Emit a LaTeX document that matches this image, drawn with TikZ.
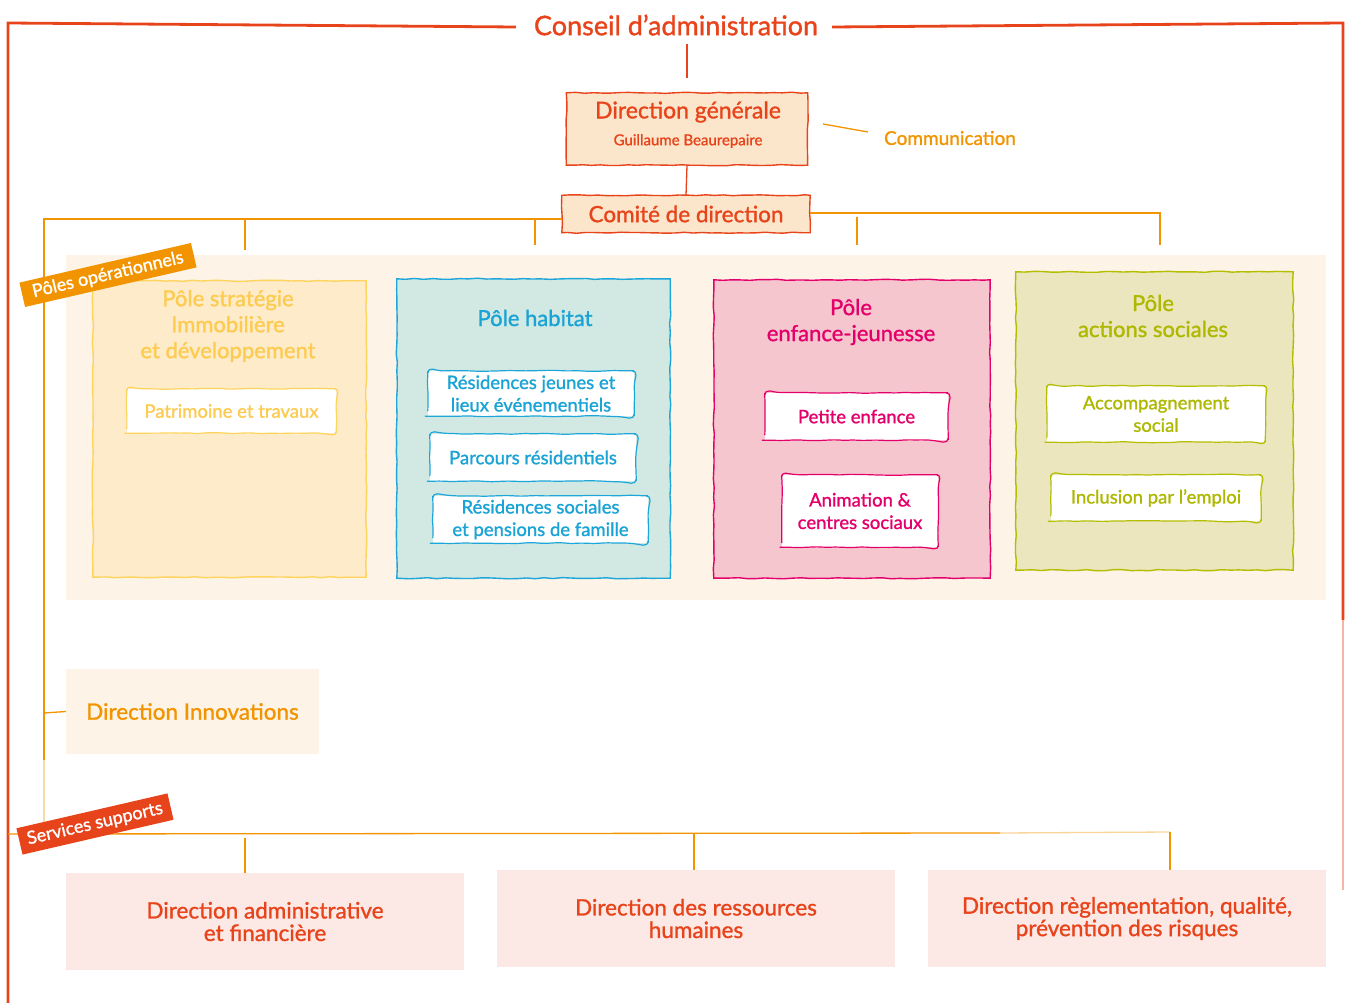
\documentclass[tikz,border=0pt]{standalone}
\usepackage{fontspec}
\setmainfont{Lato}[FakeBold=1.2]
\usetikzlibrary{decorations.pathmorphing}
\definecolor{cred}{HTML}{E8441B}
\definecolor{corange}{HTML}{F29400}
\definecolor{cpeach}{HTML}{FCE6CB}
\definecolor{ccream}{HTML}{FDF3E6}
\definecolor{sfill}{HTML}{FDEBC9}
\definecolor{sline}{HTML}{FFD45C}
\definecolor{stext}{HTML}{FCCB4F}
\definecolor{hfill}{HTML}{D1E8E3}
\definecolor{hline}{HTML}{1CA6DA}
\definecolor{htext}{HTML}{1AA3D5}
\definecolor{efill}{HTML}{F6C6CE}
\definecolor{eline}{HTML}{E4006B}
\definecolor{afill}{HTML}{EBE6BD}
\definecolor{aline}{HTML}{B4BE00}
\definecolor{atext}{HTML}{AEB800}
\definecolor{bfill}{HTML}{FCE9E5}
\tikzset{
  sketch/.style={decorate,decoration={random steps,segment length=9pt,amplitude=0.6pt}},
  box/.style={inner sep=0pt, align=center},
  pole/.style={box, fill=#1},
  title/.style={font=\fontsize{22}{26}\selectfont, align=center, inner sep=0pt},
  sub/.style={box, fill=white, font=\fontsize{18.5}{22.5}\selectfont},
  bottombox/.style={box, fill=bfill, text=cred, font=\fontsize{22.5}{22.5}\selectfont,
     minimum width=398pt, minimum height=97pt},
  link/.style={corange, line width=1.3pt},
  tag/.style={inner sep=0pt, minimum height=25pt, text=white, font=\fontsize{18}{18}\selectfont, rotate=13}
}
\begin{document}
\begin{tikzpicture}[x=1pt,y=-1pt]
\useasboundingbox (0,0) rectangle (1351,1003);

% outer frame (Conseil d'administration)
\node[box, text=cred, font=\fontsize{27}{27}\selectfont] (conseil) at (676,25) {Conseil d’administration};
\coordinate (fTL) at (8,23);
\coordinate (fTR) at (1343,23);
\coordinate (fBL) at (8,1003);
\coordinate (fBR) at (1343,620);
\coordinate (fBRfade) at (1343,890);
\draw[cred, line width=2.8pt] (conseil.west) ++(-18pt,-2pt) -- (fTL) -- (fBL);
\draw[cred, line width=2.8pt] (conseil.east) ++(14pt,-2pt) -- (fTR) -- (fBR);
\draw[cred!40, line width=2pt] (fBR) -- (fBRfade);

% Direction generale
\node[box, fill=cpeach, minimum width=241pt, minimum height=72pt] (dg) at (687,129) {};
\draw[cred, line width=1.4pt, sketch] (dg.south west) rectangle (dg.north east);
\node[text=cred, font=\fontsize{23}{23}\selectfont, inner sep=0pt] (dgt) at (688,112) {Direction générale};
\node[text=cred, font=\fontsize{15}{15}\selectfont, inner sep=0pt] (dgn) at (688,141) {Guillaume Beaurepaire};
\draw[cred, line width=1.3pt, shorten <=8pt, shorten >=15pt] (dg.north |- conseil.south) -- (dg.north);

% Communication
\node[box, text=corange, font=\fontsize{19}{19}\selectfont] (comm) at (950,138) {Communication};
\coordinate (commA) at (823,124);
\coordinate (commB) at (868,132);
\draw[corange, line width=1.3pt] (commA) -- (commB);

% Comite de direction
\node[box, fill=cpeach, minimum width=248pt, minimum height=37pt, text=cred, font=\fontsize{22.5}{22.5}\selectfont] (codir) at (686,214) {Comité de direction};
\draw[cred, line width=1.4pt, sketch] (codir.south west) rectangle (codir.north east);
\draw[cred, line width=1.3pt] (dg.south) -- (codir.north);

% background of poles
\node[box, fill=ccream, minimum width=1260pt, minimum height=345pt] (bgops) at (696,427.5) {};

% bar under comite
\coordinate (barL) at (44,219);
\coordinate (barR) at (1160,213);
\coordinate (dropS) at (245,219);
\coordinate (dropH) at (535,219);
\coordinate (dropE) at (857,217);
\coordinate (botL) at (44,835);
\draw[link] (codir.west |- barL) -- (barL) -- (44,760);
\draw[link, opacity=0.35] (44,760) -- (botL);
\draw[link] (codir.east |- barR) -- (barR) -- (1160,245);
\draw[link] (dropS) -- (245,250);
\draw[link] (dropH) -- (535,245);
\draw[link] (dropE) -- (857,245);

% Pole strategie
\node[pole=sfill, minimum width=273pt, minimum height=296pt] (strat) at (229.5,429) {};
\draw[sline, line width=1.4pt, sketch] (strat.south west) rectangle (strat.north east);
\node[title, text=stext] (strattitle) at (228,326) {Pôle stratégie\\Immobilière\\et développement};
\node[sub, text=stext, minimum width=209pt, minimum height=44pt] (patri) at (231.5,411) {Patrimoine et travaux};
\draw[sline, line width=1.2pt, sketch, rounded corners=4pt] (patri.south west) rectangle (patri.north east);

% Pole habitat
\node[pole=hfill, minimum width=273pt, minimum height=299pt] (habitat) at (533.5,428.5) {};
\draw[hline, line width=1.4pt, sketch] (habitat.south west) rectangle (habitat.north east);
\node[title, text=htext] (habtitle) at (535,318) {Pôle habitat};
\node[sub, text=htext, minimum width=206pt, minimum height=45pt] (rj) at (531,393.5) {Résidences jeunes et\\lieux événementiels};
\draw[hline, line width=1.2pt, sketch, rounded corners=5pt] (rj.south west) rectangle (rj.north east);
\node[sub, text=htext, minimum width=206pt, minimum height=47pt] (pr) at (533,457.5) {Parcours résidentiels};
\draw[hline, line width=1.2pt, sketch, rounded corners=5pt] (pr.south west) rectangle (pr.north east);
\node[sub, text=htext, minimum width=215pt, minimum height=47pt] (rs) at (540.5,519.5) {Résidences sociales\\et pensions de famille};
\draw[hline, line width=1.2pt, sketch, rounded corners=5pt] (rs.south west) rectangle (rs.north east);

% Pole enfance-jeunesse
\node[pole=efill, minimum width=276pt, minimum height=298pt] (enfance) at (852,429) {};
\draw[eline, line width=1.4pt, sketch] (enfance.south west) rectangle (enfance.north east);
\node[title, text=eline] (enftitle) at (851,322) {Pôle\\enfance-jeunesse};
\node[sub, text=eline, minimum width=183pt, minimum height=47pt] (pe) at (856.5,416.5) {Petite enfance};
\draw[eline, line width=1.2pt, sketch, rounded corners=5pt] (pe.south west) rectangle (pe.north east);
\node[sub, text=eline, minimum width=156pt, minimum height=72pt] (anim) at (860,511) {Animation \&\\centres sociaux};
\draw[eline, line width=1.2pt, sketch, rounded corners=4pt] (anim.south west) rectangle (anim.north east);

% Pole actions sociales
\node[pole=afill, minimum width=277pt, minimum height=298pt] (social) at (1154.5,421) {};
\draw[aline, line width=1.4pt, sketch] (social.south west) rectangle (social.north east);
\node[title, text=atext] (soctitle) at (1153,316) {Pôle\\actions sociales};
\node[sub, text=atext, minimum width=218pt, minimum height=56pt] (acc) at (1156,414) {Accompagnement\\social};
\draw[aline, line width=1.2pt, sketch, rounded corners=4pt] (acc.south west) rectangle (acc.north east);
\node[sub, text=atext, minimum width=210pt, minimum height=46pt] (incl) at (1156,498) {Inclusion par l’emploi};
\draw[aline, line width=1.2pt, sketch, rounded corners=5pt] (incl.south west) rectangle (incl.north east);

% tag Poles operationnels
\node[tag, fill=corange, minimum width=176pt] (lblops) at (108,275) {Pôles opérationnels};

% Direction Innovations
\node[box, fill=ccream, minimum width=253pt, minimum height=85pt, text=corange, font=\fontsize{22.5}{22.5}\selectfont] (innov) at (192.5,711.5) {Direction Innovations};
\draw[link] (44,713) -- (innov.west);

% Services supports bar
\coordinate (supL) at (8,834);
\coordinate (supR) at (1170,832);
\draw[link] (supL) -- (1000,833);
\draw[link, opacity=0.4] (1000,833) -- (supR);

% bottom boxes
\node[bottombox] (daf) at (265,921.5) {Direction administrative\\et financière};
\node[bottombox] (drh) at (696,918.5) {Direction des ressources\\humaines};
\node[bottombox] (drq) at (1127,918.5) {Direction règlementation, qualité,\\prévention des risques};
\draw[link] (245,838) -- (daf.north -| 245,0);
\draw[link] (694,833) -- (drh.north -| 694,0);
\draw[link] (supR) -- (drq.north -| 1170,0);

% tag Services supports
\node[tag, fill=cred, minimum width=155pt, minimum height=27pt] (lblsup) at (95,824) {Services supports};
\end{tikzpicture}
\end{document}
